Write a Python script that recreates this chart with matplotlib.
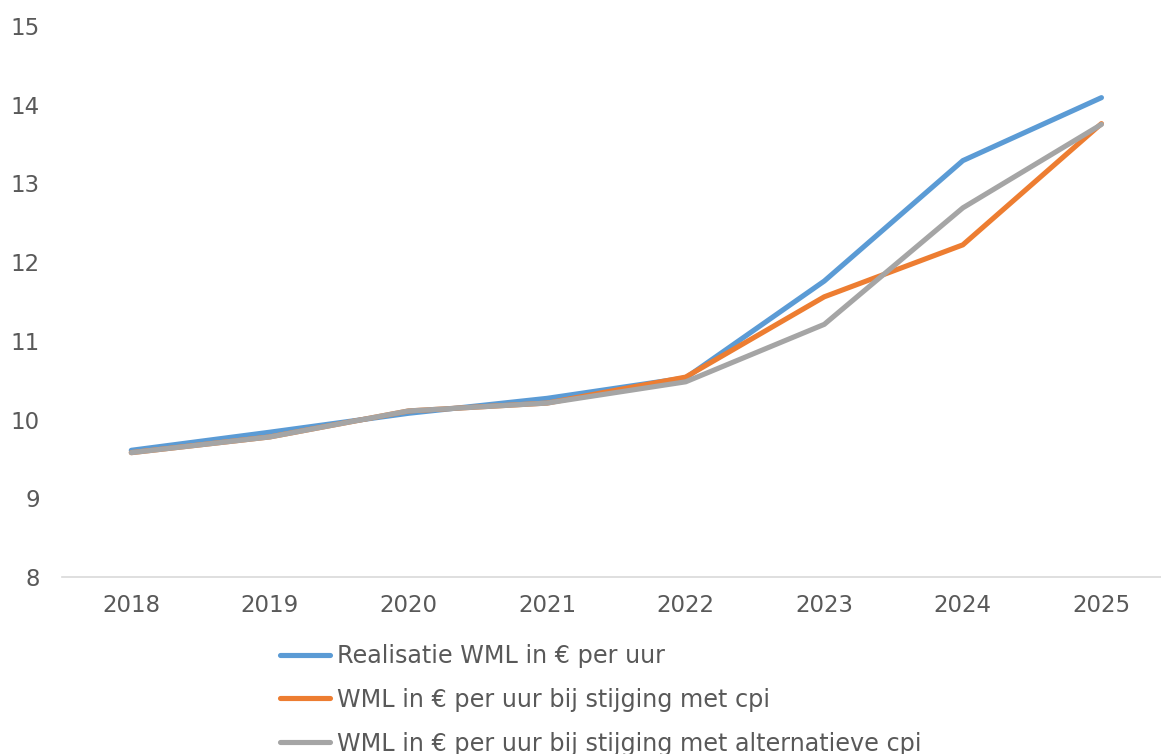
"""
plot.py: WML per uur, realisatie vs. stijging met (alternatieve) cpi
"""
import matplotlib
matplotlib.use("Agg")
import matplotlib.pyplot as plt
import numpy as np

plt.rcParams["font.family"] = ["DejaVu Sans"]

years = ["2018", "2019", "2020", "2021", "2022", "2023", "2024", "2025"]
realisatie = [9.61, 9.84, 10.08, 10.27, 10.53, 11.76, 13.29, 14.09]
cpi = [9.58, 9.78, 10.11, 10.21, 10.54, 11.56, 12.22, 13.76]
alt_cpi = [9.58, 9.78, 10.11, 10.21, 10.48, 11.21, 12.69, 13.75]

labels = ["Realisatie WML in € per uur",
          "WML in € per uur bij stijging met cpi",
          "WML in € per uur bij stijging met alternatieve cpi"]
colors = ["#5b9bd5", "#ed7d31", "#a5a5a5"]
text_color = "#595959"

fig = plt.figure(figsize=(11.61, 7.54), dpi=100)
ax = fig.add_axes([0.0534, 0.2347, 0.955, 0.7308])

x = np.arange(len(years))
for series, lab, col in zip([realisatie, cpi, alt_cpi], labels, colors):
    ax.plot(x, series, color=col, lw=3.7, label=lab, solid_capstyle="round")

ax.set_xlim(-0.5, len(years) - 0.5)
ax.set_ylim(8, 15)
ax.set_xticks(x)
ax.set_xticklabels(years)
ax.set_yticks(range(8, 16))
ax.tick_params(axis="both", length=0, labelsize=16.5, colors=text_color)
ax.tick_params(axis="x", pad=12)
ax.tick_params(axis="y", pad=16)
for side in ["top", "right", "left"]:
    ax.spines[side].set_visible(False)
ax.spines["bottom"].set_color("#d9d9d9")
ax.spines["bottom"].set_linewidth(1.2)

handles, labs = ax.get_legend_handles_labels()
leg = fig.legend(handles, labs, loc="upper left", bbox_to_anchor=(0.241, 0.146),
                 frameon=False, fontsize=17.2, handlelength=2.1, handletextpad=0.3,
                 labelspacing=0.83, borderaxespad=0, borderpad=0)
for t in leg.get_texts():
    t.set_color(text_color)

fig.savefig("out.png", dpi=100)
